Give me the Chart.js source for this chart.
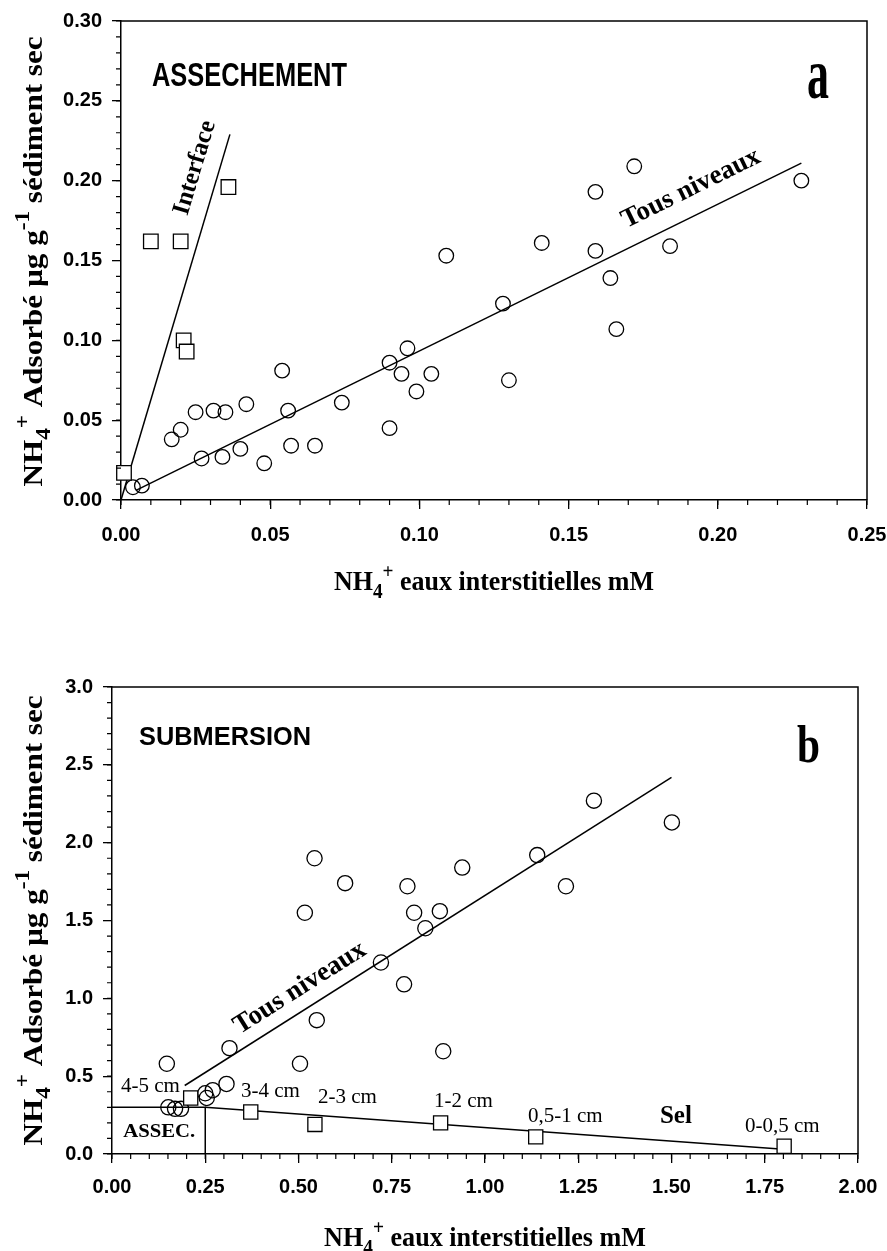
<!DOCTYPE html>
<html lang="fr">
<head>
<meta charset="UTF-8">
<title>NH4+ adsorbé - assèchement / submersion</title>
<script src="https://cdn.jsdelivr.net/npm/chart.js"></script>
<style>
  html, body { margin: 0; padding: 0; background: #fff; }
  body { width: 887px; height: 1251px; position: relative; overflow: hidden; }
  canvas { position: absolute; left: 0; }
  #chartA { top: 0; }
  #chartB { top: 620px; }
</style>
</head>
<body>
<canvas id="chartA" width="887" height="610"></canvas>
<canvas id="chartB" width="887" height="631"></canvas>
<script>
// ---- panel a : ASSECHEMENT ----
const aXTicks = ['0.00', '0.05', '0.10', '0.15', '0.20', '0.25'];
const aYTicks = ['0.00', '0.05', '0.10', '0.15', '0.20', '0.25', '0.30'];

// interface samples (squares)
const aInterfaceX = [0.001, 0.010, 0.020, 0.036, 0.021, 0.022];
const aInterfaceY = [0.017, 0.162, 0.162, 0.196, 0.100, 0.093];

// all levels (circles)
const aLevelsX = [0.004, 0.007, 0.017, 0.020, 0.025, 0.027, 0.031, 0.035, 0.034, 0.040, 0.042, 0.048,
                  0.054, 0.056, 0.057, 0.065, 0.074, 0.090, 0.090, 0.094, 0.096, 0.099, 0.104, 0.109,
                  0.128, 0.130, 0.141, 0.159, 0.159, 0.164, 0.166, 0.172, 0.184, 0.228];
const aLevelsY = [0.008, 0.009, 0.038, 0.044, 0.055, 0.026, 0.056, 0.055, 0.027, 0.032, 0.060, 0.023,
                  0.081, 0.056, 0.034, 0.034, 0.061, 0.086, 0.045, 0.079, 0.095, 0.068, 0.079, 0.153,
                  0.123, 0.075, 0.161, 0.193, 0.156, 0.139, 0.107, 0.209, 0.159, 0.200];

// regression lines
const aInterfaceFitX = [0.000, 0.0365];
const aInterfaceFitY = [0.000, 0.229];
const aLevelsFitX = [0.005, 0.228];
const aLevelsFitY = [0.006, 0.211];

// ---- panel b : SUBMERSION ----
const bXTicks = ['0.00', '0.25', '0.50', '0.75', '1.00', '1.25', '1.50', '1.75', '2.00'];
const bYTicks = ['0.0', '0.5', '1.0', '1.5', '2.0', '2.5', '3.0'];

const bLevelsX = [0.147, 0.151, 0.169, 0.185, 0.250, 0.254, 0.270, 0.307, 0.315, 0.504, 0.517, 0.543,
                  0.549, 0.625, 0.721, 0.783, 0.792, 0.810, 0.840, 0.879, 0.888, 0.939, 1.140, 1.217,
                  1.292, 1.501];
const bLevelsY = [0.58, 0.30, 0.29, 0.29, 0.39, 0.36, 0.41, 0.45, 0.68, 0.58, 1.55, 1.90,
                  0.86, 1.74, 1.23, 1.09, 1.72, 1.55, 1.45, 1.56, 0.66, 1.84, 1.92, 1.72,
                  2.27, 2.13];

// salt profile by depth (squares)
const bDepthLabels = ['4-5 cm', '3-4 cm', '2-3 cm', '1-2 cm', '0,5-1 cm', '0-0,5 cm'];
const bSelX = [0.211, 0.372, 0.544, 0.881, 1.136, 1.802];
const bSelY = [0.36, 0.27, 0.19, 0.20, 0.11, 0.05];

const bLevelsFitX = [0.195, 1.50];
const bLevelsFitY = [0.44, 2.42];
const bSelFitX = [0.25, 1.80];
const bSelFitY = [0.30, 0.03];
// ASSEC. box corner
const bAssecX = [0.00, 0.25, 0.25];
const bAssecY = [0.30, 0.30, 0.00];

const SERIF = '"Liberation Serif", "Times New Roman", serif';
const SANS = '"Liberation Sans", Arial, sans-serif';

const yTitleParts = [{t: 'NH'}, {t: '4', sub: true}, {t: '+', sup: true}, {t: ' Adsorbé µg g'}, {t: '-1', sup: true}, {t: ' sédiment sec'}];
const xTitleParts = [{t: 'NH'}, {t: '4', sub: true}, {t: '+', sup: true}, {t: ' eaux interstitielles mM'}];

function pts(xs, ys) {
    return xs.map((x, i) => ({x: x, y: ys[i]}));
}

// text squeezed/stretched to a given width
function fitText(ctx, text, font, x, y, width) {
    ctx.save();
    ctx.font = font;
    const w = ctx.measureText(text).width;
    const k = width ? width / w : 1;
    ctx.translate(x, y);
    ctx.scale(k, 1);
    ctx.textAlign = 'left';
    ctx.textBaseline = 'alphabetic';
    ctx.fillStyle = '#000';
    ctx.fillText(text, 0, 0);
    ctx.restore();
}

// title with sub/superscripts, centred on (cx, cy) baseline
function richText(ctx, parts, size, cx, cy, rot, width) {
    const fontFor = p => 'bold ' + ((p.sub || p.sup) ? Math.round(size * 0.75) : size) + 'px ' + SERIF;
    ctx.save();
    let total = 0;
    parts.forEach(p => { ctx.font = fontFor(p); p.w = ctx.measureText(p.t).width; total += p.w; });
    const k = width ? width / total : 1;
    ctx.translate(cx, cy);
    ctx.rotate(rot);
    ctx.scale(k, 1);
    ctx.textAlign = 'left';
    ctx.textBaseline = 'alphabetic';
    ctx.fillStyle = '#000';
    let x = -total / 2;
    parts.forEach(p => {
        ctx.font = fontFor(p);
        const dy = p.sub ? size * 0.28 : (p.sup ? -size * 0.45 : 0);
        ctx.fillText(p.t, x, dy);
        x += p.w;
    });
    ctx.restore();
}

// label laid along a fitted line
function lineLabel(chart, text, font, fx, fy, cx, cy) {
    const ctx = chart.ctx, xs = chart.scales.x, ys = chart.scales.y;
    const ang = Math.atan2(ys.getPixelForValue(fy[1]) - ys.getPixelForValue(fy[0]),
                           xs.getPixelForValue(fx[1]) - xs.getPixelForValue(fx[0]));
    ctx.save();
    ctx.translate(xs.getPixelForValue(cx), ys.getPixelForValue(cy));
    ctx.rotate(ang);
    ctx.font = font;
    ctx.fillStyle = '#000';
    ctx.textAlign = 'center';
    ctx.textBaseline = 'middle';
    ctx.fillText(text, 0, 0);
    ctx.restore();
}

function frameAndMinor(chart, xStep, yStep) {
    const ctx = chart.ctx, a = chart.chartArea, xs = chart.scales.x, ys = chart.scales.y;
    ctx.save();
    ctx.strokeStyle = '#000';
    ctx.lineWidth = 1.5;
    ctx.beginPath();
    ctx.moveTo(a.left, a.top);
    ctx.lineTo(a.right, a.top);
    ctx.lineTo(a.right, a.bottom);
    ctx.stroke();
    ctx.lineWidth = 1.2;
    ctx.beginPath();
    for (let v = xs.min; v <= xs.max + 1e-9; v += xStep) {
        const px = xs.getPixelForValue(v);
        ctx.moveTo(px, a.bottom);
        ctx.lineTo(px, a.bottom + 5);
    }
    for (let v = ys.min; v <= ys.max + 1e-9; v += yStep) {
        const py = ys.getPixelForValue(v);
        ctx.moveTo(a.left, py);
        ctx.lineTo(a.left - 5, py);
    }
    ctx.stroke();
    ctx.restore();
}

function axisOptions(min, max, step, labels, fitSize, horizontal, pad) {
    return {
        type: 'linear',
        min: min,
        max: max,
        grid: {drawOnChartArea: false, drawTicks: true, tickLength: 9, color: '#000', lineWidth: 1.3},
        border: {display: true, color: '#000', width: 1.5},
        ticks: {
            stepSize: step,
            padding: pad,
            color: '#000',
            maxRotation: 0,
            autoSkip: false,
            font: {family: SANS, size: 20, weight: 'bold'},
            callback: v => labels[Math.round((v - min) / step)]
        },
        afterFit: s => {
            // fixed axis box sizes so the plot area lands where the original is
            if (horizontal) {
                s.height = fitSize;
                s.paddingLeft = 0;
                s.paddingRight = 0;
            } else {
                s.width = fitSize;
                s.paddingTop = 0;
                s.paddingBottom = 0;
            }
        }
    };
}

const circle = {pointStyle: 'circle', pointRadius: 7.3, borderColor: '#000', backgroundColor: 'rgba(0,0,0,0)', borderWidth: 1.3, clip: false};
const square = {pointStyle: 'rect', pointRadius: 10.3, borderColor: '#000', backgroundColor: '#fff', borderWidth: 1.3, clip: false};
const fitLine = {showLine: true, pointRadius: 0, borderColor: '#000', borderWidth: 1.5, fill: false, clip: false};

// ---------- chart a ----------
const decorA = {
    id: 'decorA',
    afterDraw(chart) {
        const ctx = chart.ctx, a = chart.chartArea;
        frameAndMinor(chart, 0.01, 0.01);
        fitText(ctx, 'ASSECHEMENT', 'bold 34px ' + SANS, a.left + 31, a.top + 65, 195);
        fitText(ctx, 'a', 'bold 72px ' + SERIF, a.right - 60, a.top + 77, 22);
        lineLabel(chart, 'Interface', 'bold 25px ' + SERIF, aInterfaceFitX, aInterfaceFitY, 0.0248, 0.208);
        lineLabel(chart, 'Tous niveaux', 'bold 27px ' + SERIF, aLevelsFitX, aLevelsFitY, 0.191, 0.195);
        richText(ctx, yTitleParts, 28, 42, (a.top + a.bottom) / 2 + 1, -Math.PI / 2, 450);
        richText(ctx, xTitleParts, 27, (a.left + a.right) / 2, a.bottom + 90, 0, 320);
    }
};

new Chart(document.getElementById('chartA'), {
    type: 'scatter',
    data: {
        datasets: [
            Object.assign({label: 'Interface', data: pts(aInterfaceX, aInterfaceY)}, square),
            Object.assign({label: 'Tous niveaux', data: pts(aLevelsX, aLevelsY)}, circle),
            Object.assign({label: 'fit interface', data: pts(aInterfaceFitX, aInterfaceFitY)}, fitLine),
            Object.assign({label: 'fit niveaux', data: pts(aLevelsFitX, aLevelsFitY)}, fitLine)
        ]
    },
    options: {
        responsive: false,
        animation: false,
        events: [],
        layout: {padding: {left: 0, right: 20, top: 21, bottom: 0}},
        plugins: {legend: {display: false}, tooltip: {enabled: false}},
        scales: {
            x: axisOptions(0, 0.25, 0.05, aXTicks, 110, true, 14),
            y: axisOptions(0, 0.30, 0.05, aYTicks, 121, false, 10)
        }
    },
    plugins: [decorA]
});

// ---------- chart b ----------
const decorB = {
    id: 'decorB',
    afterDraw(chart) {
        const ctx = chart.ctx, a = chart.chartArea, xs = chart.scales.x, ys = chart.scales.y;
        frameAndMinor(chart, 0.05, 0.1);
        fitText(ctx, 'SUBMERSION', 'bold 26px ' + SANS, a.left + 27, a.top + 58, 172);
        fitText(ctx, 'b', 'bold 52px ' + SERIF, a.right - 61, a.top + 75, 23);
        lineLabel(chart, 'Tous niveaux', 'bold 27px ' + SERIF, bLevelsFitX, bLevelsFitY, 0.504, 1.066);

        // depth labels next to each salt square
        const depthAt = [[0.024, 0.40], [0.346, 0.366], [0.552, 0.328], [0.863, 0.302], [1.115, 0.206], [1.697, 0.141]];
        bDepthLabels.forEach((txt, i) => {
            fitText(ctx, txt, '21px ' + SERIF, xs.getPixelForValue(depthAt[i][0]), ys.getPixelForValue(depthAt[i][1]), 0);
        });
        fitText(ctx, 'Sel', 'bold 25px ' + SERIF, xs.getPixelForValue(1.469), ys.getPixelForValue(0.199), 0);
        fitText(ctx, 'ASSEC.', 'bold 19px ' + SERIF, xs.getPixelForValue(0.03), ys.getPixelForValue(0.109), 72);

        richText(ctx, yTitleParts, 28, 42, (a.top + a.bottom) / 2, -Math.PI / 2, 450);
        richText(ctx, xTitleParts, 27, (a.left + a.right) / 2, a.bottom + 92, 0, 322);
    }
};

new Chart(document.getElementById('chartB'), {
    type: 'scatter',
    data: {
        datasets: [
            Object.assign({label: 'Sel', data: pts(bSelX, bSelY)}, square, {pointRadius: 10}),
            Object.assign({label: 'Tous niveaux', data: pts(bLevelsX, bLevelsY)}, circle, {pointRadius: 7.6}),
            Object.assign({label: 'fit niveaux', data: pts(bLevelsFitX, bLevelsFitY)}, fitLine),
            Object.assign({label: 'fit sel', data: pts(bSelFitX, bSelFitY)}, fitLine),
            Object.assign({label: 'ASSEC.', data: pts(bAssecX, bAssecY)}, fitLine)
        ]
    },
    options: {
        responsive: false,
        animation: false,
        events: [],
        layout: {padding: {left: 0, right: 29, top: 67, bottom: 0}},
        plugins: {legend: {display: false}, tooltip: {enabled: false}},
        scales: {
            x: axisOptions(0, 2.0, 0.25, bXTicks, 97, true, 12),
            y: axisOptions(0, 3.0, 0.5, bYTicks, 112, false, 10)
        }
    },
    plugins: [decorB]
});
</script>
</body>
</html>
